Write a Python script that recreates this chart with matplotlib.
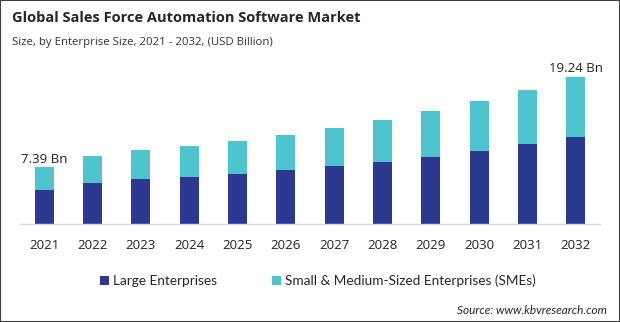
import matplotlib
matplotlib.use("Agg")
import matplotlib.pyplot as plt
from matplotlib.patches import Rectangle

years = ["2021", "2022", "2023", "2024", "2025", "2026", "2027", "2028", "2029", "2030", "2031", "2032"]
large = [4.44, 5.35, 5.88, 6.14, 6.53, 7.05, 7.57, 8.10, 8.75, 9.53, 10.45, 11.36]
totals = [7.39, 8.92, 9.67, 10.19, 10.84, 11.60, 12.54, 13.58, 14.76, 16.06, 17.50, 19.24]
smes = [round(t - l, 2) for t, l in zip(totals, large)]
series_names = ["Large Enterprises", "Small & Medium-Sized Enterprises (SMEs)"]
label_idx = {0: "7.39 Bn", 11: "19.24 Bn"}

c_dark = "#2B3990"
c_light = "#4EC4CF"
font = "Open Sans"

W, H = 620, 322
fig = plt.figure(figsize=(W / 100, H / 100), dpi=100)
fig.patch.set_facecolor("white")

ax = fig.add_axes([20 / W, (H - 224) / H, 580 / W, 164 / H])
x = list(range(len(years)))
ax.bar(x, large, width=0.39, color=c_dark, label=series_names[0], zorder=2)
ax.bar(x, smes, width=0.39, bottom=large, color=c_light, label=series_names[1], zorder=2)
ax.set_xlim(-0.5, len(years) - 0.5)
ax.set_ylim(0, 21.42)
ax.set_xticks(x)
ax.set_xticklabels(years, fontsize=9.5, family=font, color="#222222")
ax.tick_params(axis="x", length=0, pad=11)
ax.set_yticks([])
for s in ["left", "right", "top"]:
    ax.spines[s].set_visible(False)
ax.spines["bottom"].set_color("#D9D9D9")
ax.spines["bottom"].set_linewidth(1.0)

for i, txt in label_idx.items():
    ax.text(i, totals[i] + 0.25, txt, ha="center", va="bottom", fontsize=9.5,
            family=font, color="#222222")

fig.text(12 / W, 1 - 18 / H, "Global Sales Force Automation Software Market",
         fontsize=10.5, fontweight="bold", family=font, color="#262626", va="center")
fig.text(12 / W, 1 - 42 / H, "Size, by Enterprise Size, 2021 - 2032, (USD Billion)",
         fontsize=8.2, family=font, color="#333333", va="center")

leg = fig.legend(loc="center", bbox_to_anchor=(318 / W, 1 - 281 / H), ncol=2,
                 frameon=False, prop={"family": "Lato", "size": 9.8},
                 handlelength=0.7, handleheight=0.7, handletextpad=0.3,
                 columnspacing=4.0)
for t in leg.get_texts():
    t.set_color("#262626")

fig.text(607 / W, 1 - 310 / H, "Source: www.kbvresearch.com", fontsize=8.5,
         style="italic", family="Lato", color="#262626", ha="right", va="center")

fig.patches.append(Rectangle((0, 0), 1, 1, transform=fig.transFigure, fill=False,
                             edgecolor="#404040", linewidth=1.5))

fig.savefig("out.png", dpi=100, facecolor="white")
